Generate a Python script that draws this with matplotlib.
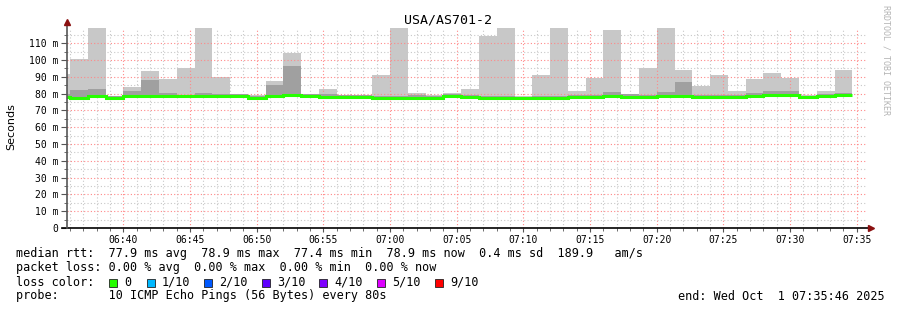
import numpy as np
import matplotlib
matplotlib.use("Agg")
import matplotlib.pyplot as plt
from matplotlib.patches import Rectangle

# ---------------------------------------------------------------------
# data (SmokePing, 10 pings every 80 s, values in ms)
# ---------------------------------------------------------------------
view_start = "06:35:46"
view_end = "07:35:46"
first_bin = "06:34:40"
step_s = 80

median_ms = [78.2, 77.6, 78.3, 77.5, 78.3, 78.6, 78.3, 78.3, 78.3, 78.3,
             78.4, 77.5, 78.3, 78.9, 78.4, 77.9, 78.2, 78.2, 77.5, 77.5,
             77.6, 77.5, 78.4, 78.2, 77.5, 77.5, 77.5, 77.5, 77.5, 78.1,
             78.1, 78.6, 78.2, 78.2, 78.6, 78.7, 78.1, 78.1, 78.1, 78.4,
             78.9, 78.9, 77.9, 78.4, 78.9]
# inner smoke (darker band top)
smoke_inner_ms = [80.0, 82.0, 82.6, 78.5, 81.5, 88.0, 80.3, 79.0, 80.5, 79.6,
                  79.5, 78.5, 85.2, 96.3, 79.5, 79.5, 79.0, 79.0, 78.5, 78.5,
                  79.0, 78.5, 79.5, 79.0, 78.5, 78.5, 78.0, 78.5, 78.5, 79.0,
                  79.0, 80.9, 79.5, 79.0, 80.9, 86.8, 79.0, 79.0, 79.0, 80.3,
                  81.5, 81.5, 78.5, 79.5, 80.3]
# outer smoke (max ping), 125 = beyond top of graph
smoke_outer_ms = [91.5, 100.5, 125, 78.5, 83.8, 93.4, 88.6, 95.3, 125, 89.8,
                  80.0, 79.0, 87.4, 104.2, 80.0, 82.6, 79.4, 79.4, 91.0, 125,
                  80.3, 79.0, 80.3, 82.6, 114.3, 125, 78.5, 91.0, 125, 81.5,
                  89.4, 117.7, 79.5, 95.3, 125, 94.0, 84.4, 91.0, 81.5, 88.6,
                  92.2, 89.2, 78.9, 81.5, 94.0]

x_tick_labels = ["06:40", "06:45", "06:50", "06:55", "07:00", "07:05",
                 "07:10", "07:15", "07:20", "07:25", "07:30", "07:35"]
y_tick_values = [0, 10, 20, 30, 40, 50, 60, 70, 80, 90, 100, 110]
y_tick_labels = ["0", "10 m", "20 m", "30 m", "40 m", "50 m", "60 m",
                 "70 m", "80 m", "90 m", "100 m", "110 m"]

loss_labels = ["0", "1/10", "2/10", "3/10", "4/10", "5/10", "9/10"]
loss_colors = ["#26ff00", "#00b8ff", "#0059ff", "#5e00ff", "#7e00ff",
               "#dd00ff", "#ff0000"]


def to_min(s):
    parts = [int(p) for p in s.split(":")]
    return parts[0] * 60 + parts[1] + (parts[2] / 60 if len(parts) > 2 else 0)


W, H = 897, 310
mono = "DejaVu Sans Mono"

fig = plt.figure(figsize=(W / 100, H / 100), dpi=100)
fig.patch.set_facecolor("white")
ax = fig.add_axes([67 / W, (H - 228) / H, 800 / W, 200 / H])

edges = to_min(first_bin) + np.arange(len(median_ms) + 1) * step_s / 60

ax.stairs(smoke_outer_ms, edges, baseline=median_ms, fill=True,
          color="#c8c8c8", lw=0, zorder=2)
ax.stairs(smoke_inner_ms, edges, baseline=median_ms, fill=True,
          color="#a0a0a0", lw=0, zorder=3)
ax.stairs(median_ms, edges, baseline=None, color=loss_colors[0],
          lw=2.2, zorder=4)

ax.set_xlim(to_min(view_start), to_min(view_end))
ax.set_ylim(0, 119)

ax.set_xticks([to_min(t) for t in x_tick_labels])
ax.set_xticklabels(x_tick_labels)
ax.set_xticks(np.arange(396, 456, 1), minor=True)
ax.set_yticks(y_tick_values)
ax.set_yticklabels(y_tick_labels)
ax.set_yticks(np.arange(5, 119, 5), minor=True)

ax.grid(which="minor", color="#c8c8c8", linestyle=(0, (1, 2)), lw=0.8, zorder=5)
ax.grid(which="major", color="#ff8888", linestyle=(0, (1, 2)), lw=0.8, zorder=6)
ax.set_axisbelow(False)

for s in ax.spines.values():
    s.set_visible(False)

ax.tick_params(axis="both", which="both", colors="#555555",
               labelcolor="black", labelsize=7, direction="out")
ax.tick_params(axis="y", which="major", length=4, pad=2)
ax.tick_params(axis="y", which="minor", length=2)
ax.tick_params(axis="x", which="major", length=3, pad=2)
ax.tick_params(axis="x", which="minor", length=2)
for lab in ax.get_xticklabels() + ax.get_yticklabels():
    lab.set_family(mono)

# axis lines with arrows
ax.plot([-5 / 800, 1.005], [0, 0], color="black", lw=1.2,
        transform=ax.transAxes, clip_on=False, zorder=8)
ax.plot([0, 0], [0, 1.03], color="#555555", lw=1.2,
        transform=ax.transAxes, clip_on=False, zorder=8)
ax.plot([1.005], [0], marker=">", ms=5, color="#8b1010",
        transform=ax.transAxes, clip_on=False, zorder=9)
ax.plot([0], [1.03], marker="^", ms=5, color="#8b1010",
        transform=ax.transAxes, clip_on=False, zorder=9)

fig.text(11 / W, 1 - 127 / H, "Seconds", fontsize=8, family="DejaVu Sans",
         rotation=90, ha="center", va="center")

fig.text(448 / W, 1 - 20 / H, "USA/AS701-2", family=mono, fontsize=9.5,
         ha="center", va="center")
fig.text(886 / W, 1 - 5 / H, "RRDTOOL / TOBI OETIKER", family=mono,
         fontsize=6, color="#b4b4b4", rotation=270, ha="center", va="top")


def ftext(x, y, s, **kw):
    fig.text(x / W, 1 - y / H, s, family=mono, fontsize=8.5,
             ha="left", va="center", **kw)


ftext(16, 254, "median rtt:  77.9 ms avg  78.9 ms max  77.4 ms min  "
               "78.9 ms now  0.4 ms sd  189.9   am/s")
ftext(16, 268, "packet loss: 0.00 % avg  0.00 % max  0.00 % min  0.00 % now")
ftext(16, 282, "loss color:")
ftext(16, 296, "probe:       10 ICMP Echo Pings (56 Bytes) every 80s")
ftext(678, 296, "end: Wed Oct  1 07:35:46 2025")

box_x = [109, 146.7, 204, 261.7, 319.3, 377.3, 435]
for bx, lbl, col in zip(box_x, loss_labels, loss_colors):
    fig.add_artist(Rectangle((bx / W, 1 - 286.5 / H), 8 / W, 8 / H,
                             transform=fig.transFigure, facecolor=col,
                             edgecolor="#222222", lw=0.6))
    ftext(bx + 15, 282, lbl)

fig.savefig("out.png", dpi=100, facecolor="white")
